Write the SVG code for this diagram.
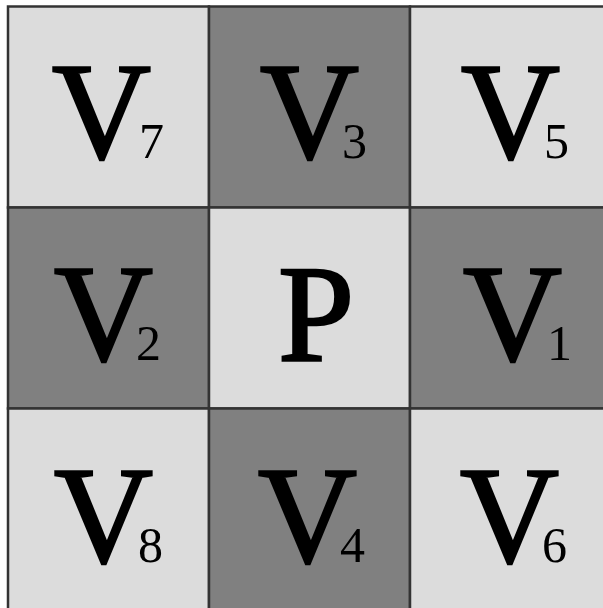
<svg xmlns="http://www.w3.org/2000/svg" width="603" height="608" viewBox="0 0 603 608">
<style>
.light{fill:#dcdcdc}
.dark{fill:#808080}
.cell{stroke:#333333;stroke-width:2.5}
text{font-family:'Liberation Serif','Times New Roman',serif;fill:#000000}
.v{font-size:137px;stroke:#000000;stroke-width:2.5}
.s{font-size:50px}
</style>
<rect width="603" height="608" fill="#ffffff"/>
<g id="V7"><rect class="cell light" x="8" y="6.5" width="201" height="201"/><text class="v" x="52" y="158">V</text><text class="s" x="139" y="158">7</text></g>
<g id="V3"><rect class="cell dark" x="209" y="6.5" width="201" height="201"/><text class="v" x="260" y="158">V</text><text class="s" x="342" y="158">3</text></g>
<g id="V5"><rect class="cell light" x="410" y="6.5" width="201" height="201"/><text class="v" x="461" y="158">V</text><text class="s" x="544" y="158">5</text></g>
<g id="V2"><rect class="cell dark" x="8" y="207.5" width="201" height="201"/><text class="v" x="54" y="360">V</text><text class="s" x="136" y="360">2</text></g>
<g id="P"><rect class="cell light" x="209" y="207.5" width="201" height="201"/><text class="v" x="278" y="359.5">P</text></g>
<g id="V1"><rect class="cell dark" x="410" y="207.5" width="201" height="201"/><text class="v" x="463" y="360">V</text><text class="s" x="547" y="360">1</text></g>
<g id="V8"><rect class="cell light" x="8" y="408.5" width="201" height="201"/><text class="v" x="54" y="561.5">V</text><text class="s" x="138" y="561.5">8</text></g>
<g id="V4"><rect class="cell dark" x="209" y="408.5" width="201" height="201"/><text class="v" x="258" y="561.5">V</text><text class="s" x="340" y="561.5">4</text></g>
<g id="V6"><rect class="cell light" x="410" y="408.5" width="201" height="201"/><text class="v" x="460" y="561.5">V</text><text class="s" x="542" y="561.5">6</text></g>
<g id="connectors"></g>
</svg>
